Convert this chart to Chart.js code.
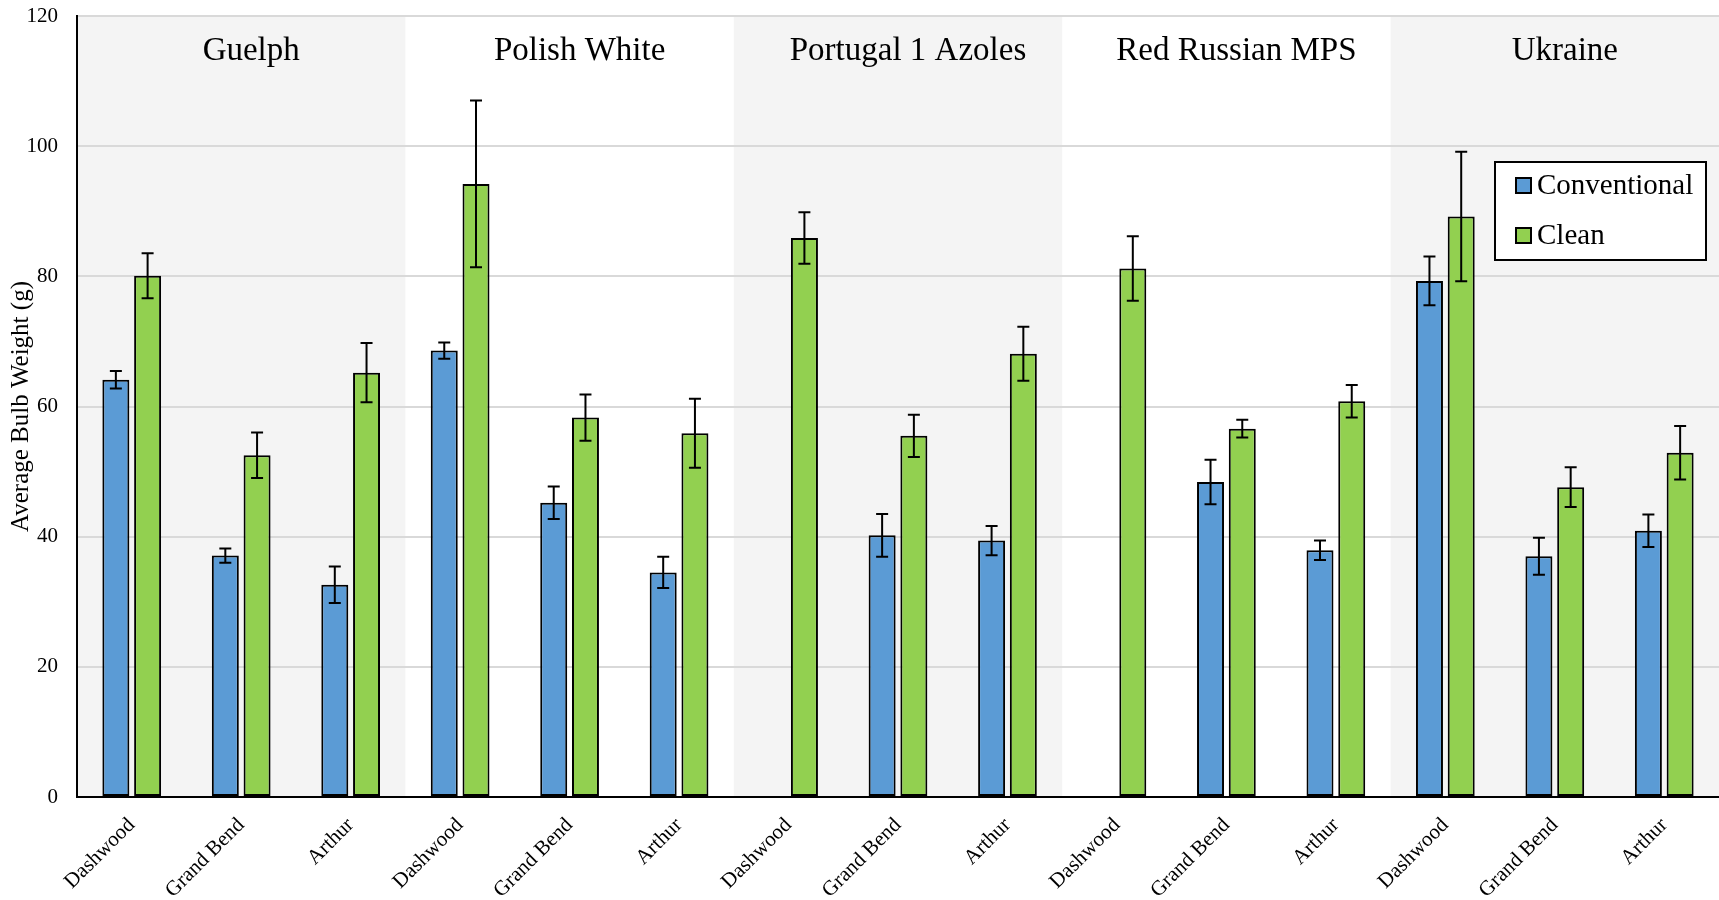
<!DOCTYPE html>
<html lang="en">
<head>
    <meta charset="UTF-8" />
    <title>Average Bulb Weight</title>
    <script src="https://cdn.jsdelivr.net/npm/chart.js"></script>
    <style>
        body {
            margin: 0;
            background: #fff;
        }

        .chart-box {
            width: 1719px;
            height: 900px;
            position: relative;
        }
    </style>
</head>
<body>
    <div class="chart-box">
        <canvas id="bulbChart"></canvas>
    </div>

    <script>
        const groups = ["Guelph", "Polish White", "Portugal 1 Azoles", "Red Russian MPS", "Ukraine"];
        const sites = ["Dashwood", "Grand Bend", "Arthur"];
        const conventional = [64.1, 37.1, 32.6, 68.6, 45.2, 34.5, null, 40.2, 39.4, null, 48.4, 37.9, 79.3, 37.0, 40.9];
        const conventionalErr = [1.35, 1.1, 2.8, 1.25, 2.5, 2.4, null, 3.3, 2.25, null, 3.4, 1.5, 3.75, 2.85, 2.5];
        const clean = [80.1, 52.5, 65.2, 94.2, 58.3, 55.9, 85.9, 55.5, 68.1, 81.2, 56.6, 60.8, 89.2, 47.6, 52.9];
        const cleanErr = [3.45, 3.5, 4.55, 12.8, 3.55, 5.3, 3.95, 3.25, 4.15, 4.95, 1.35, 2.5, 9.95, 3.05, 4.1];
        const yTicks = [0, 20, 40, 60, 80, 100, 120];

        const serif = "'Liberation Serif', 'Times New Roman', serif";
        const labels = [];
        groups.forEach(() => sites.forEach(s => labels.push(s)));

        // grey bands behind every other variety + variety names
        const bandPlugin = {
            id: "bands",
            beforeDraw(chart) {
                const { ctx, chartArea, scales } = chart;
                const step = scales.x.width / labels.length;
                ctx.save();
                groups.forEach((g, i) => {
                    const x0 = chartArea.left + i * sites.length * step;
                    const w = sites.length * step;
                    if (i % 2 === 0) {
                        ctx.fillStyle = "#f4f4f4";
                        ctx.fillRect(x0, chartArea.top, w, chartArea.bottom - chartArea.top);
                    }
                    ctx.fillStyle = "#000";
                    ctx.font = "33px " + serif;
                    ctx.textAlign = "center";
                    ctx.textBaseline = "middle";
                    ctx.fillText(g, x0 + w / 2 + 10, chartArea.top + 35);
                });
                ctx.restore();
            }
        };

        const errorPlugin = {
            id: "errorBars",
            afterDatasetsDraw(chart) {
                const { ctx, scales } = chart;
                ctx.save();
                ctx.strokeStyle = "#000";
                ctx.lineWidth = 2;
                chart.data.datasets.forEach((ds, di) => {
                    const meta = chart.getDatasetMeta(di);
                    meta.data.forEach((bar, i) => {
                        const v = ds.data[i];
                        const e = ds.errors[i];
                        if (v == null || e == null) return;
                        const yTop = scales.y.getPixelForValue(v + e);
                        const yBot = scales.y.getPixelForValue(v - e);
                        ctx.beginPath();
                        ctx.moveTo(bar.x, yTop);
                        ctx.lineTo(bar.x, yBot);
                        ctx.moveTo(bar.x - 6, yTop);
                        ctx.lineTo(bar.x + 6, yTop);
                        ctx.moveTo(bar.x - 6, yBot);
                        ctx.lineTo(bar.x + 6, yBot);
                        ctx.stroke();
                    });
                });
                ctx.restore();
            }
        };

        const legendPlugin = {
            id: "boxLegend",
            afterDraw(chart) {
                const { ctx } = chart;
                const x = 1495, y = 162, w = 211, h = 98;
                ctx.save();
                ctx.fillStyle = "#fff";
                ctx.fillRect(x, y, w, h);
                ctx.strokeStyle = "#000";
                ctx.lineWidth = 2;
                ctx.strokeRect(x, y, w, h);
                ctx.font = "29px " + serif;
                ctx.textBaseline = "middle";
                ctx.textAlign = "left";
                chart.data.datasets.forEach((ds, i) => {
                    const cy = y + 24 + i * 50;
                    ctx.fillStyle = ds.backgroundColor;
                    ctx.fillRect(x + 21, cy - 8, 15, 15);
                    ctx.strokeRect(x + 21, cy - 8, 15, 15);
                    ctx.fillStyle = "#000";
                    ctx.fillText(ds.label, x + 42, cy);
                });
                ctx.restore();
            }
        };

        new Chart(document.getElementById("bulbChart"), {
            type: "bar",
            data: {
                labels: labels,
                datasets: [
                    {
                        label: "Conventional", data: conventional, errors: conventionalErr,
                        backgroundColor: "#5b9bd5", borderColor: "#000", borderWidth: 2, borderSkipped: false,
                        categoryPercentage: 0.58, barPercentage: 0.85
                    },
                    {
                        label: "Clean", data: clean, errors: cleanErr,
                        backgroundColor: "#92d050", borderColor: "#000", borderWidth: 2, borderSkipped: false,
                        categoryPercentage: 0.58, barPercentage: 0.85
                    }
                ]
            },
            options: {
                animation: false,
                responsive: true,
                maintainAspectRatio: false,
                layout: { padding: { top: 16, right: 0, bottom: 0, left: 0 } },
                scales: {
                    x: {
                        grid: { display: false, drawTicks: false },
                        border: { color: "#000", width: 2 },
                        ticks: {
                            color: "#000", font: { family: serif, size: 21 },
                            maxRotation: 45, minRotation: 45, autoSkip: false, padding: 16
                        },
                        afterFit(scale) {
                            scale.height = 103;
                            scale.paddingTop = 0;
                            scale.paddingBottom = 0;
                        }
                    },
                    y: {
                        min: 0, max: 120,
                        afterBuildTicks(scale) { scale.ticks = yTicks.map(v => ({ value: v })); },
                        grid: { color: "#d9d9d9", lineWidth: 2, drawTicks: false },
                        border: { color: "#000", width: 2 },
                        ticks: { color: "#000", font: { family: serif, size: 21 }, padding: 19 },
                        title: {
                            display: true, text: "Average Bulb Weight (g)", color: "#000",
                            font: { family: serif, size: 25 }, padding: { top: 6, bottom: 0 }
                        },
                        afterFit(scale) {
                            scale.width = 77;
                            scale.paddingTop = 0;
                            scale.paddingBottom = 0;
                        }
                    }
                },
                plugins: {
                    legend: { display: false },
                    tooltip: { enabled: false }
                }
            },
            plugins: [bandPlugin, errorPlugin, legendPlugin]
        });
    </script>
</body>
</html>
